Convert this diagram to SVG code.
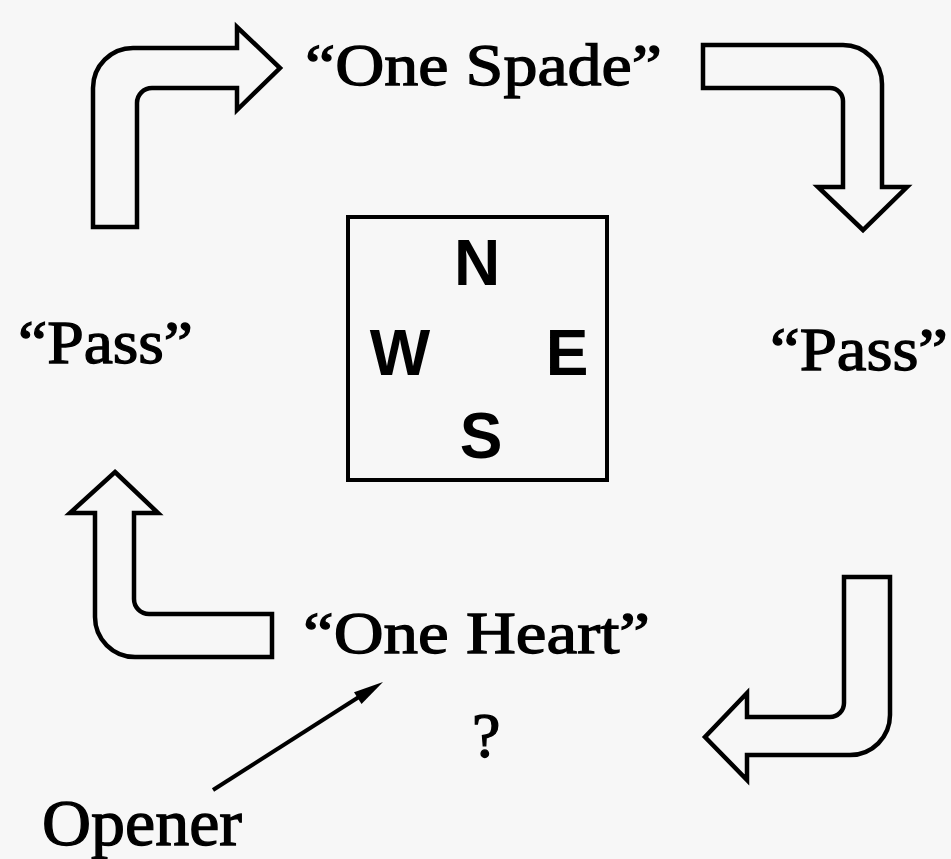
<svg xmlns="http://www.w3.org/2000/svg" width="951" height="859" viewBox="0 0 951 859">
<style>
.bg{fill:#f7f7f7}
.lbl{font-family:"Liberation Serif","Times New Roman",serif;fill:#000;stroke:#000;stroke-width:1.3}
.cmp{font-family:"Liberation Sans",Arial,sans-serif;font-weight:bold;font-size:64px;fill:#000;text-anchor:middle}
.big{fill:none;stroke:#000;stroke-width:4.5;stroke-linejoin:miter}
.box{fill:none;stroke:#000;stroke-width:4}
.ptr{stroke:#000;stroke-width:4;fill:none}
</style>
<rect class="bg" x="0" y="0" width="951" height="859"/>
<g id="connectors">
  <path id="arrow-top-left" class="big" d="M93,227 L93,88 A40,40 0 0 1 133,48 L237,48 L237,27 L280,68 L237,110 L237,88 L152,88 A15,15 0 0 0 137,103 L137,227 Z"/>
  <path id="arrow-top-right" class="big" d="M703,45 L843,45 A39,39 0 0 1 882,84 L882,187 L907,187 L863,230 L818,187 L843,187 L843,101 A13,13 0 0 0 830,88 L703,88 Z"/>
  <path id="arrow-bottom-right" class="big" d="M844,577 L890,577 L890,715 A40,40 0 0 1 850,755 L747,755 L747,780 L705,737 L747,693 L747,717 L830,717 A14,14 0 0 0 844,703 Z"/>
  <path id="arrow-bottom-left" class="big" d="M115,472 L158,513 L134,513 L134,599 A15,15 0 0 0 149,614 L272,614 L272,657 L135,657 A40,40 0 0 1 95,617 L95,513 L70,513 Z"/>
  <g id="arrow-opener">
    <line class="ptr" x1="213" y1="790" x2="362" y2="695"/>
    <polygon points="383,682 361.5,704 354,692.2" fill="#000"/>
  </g>
</g>
<g id="compass">
  <rect class="box" x="348" y="217" width="259" height="263"/>
  <text class="cmp" x="477" y="285">N</text>
  <text class="cmp" x="400" y="375">W</text>
  <text class="cmp" x="567" y="375">E</text>
  <text class="cmp" x="481" y="458">S</text>
</g>
<g id="one-spade"><text class="lbl" x="305" y="85" font-size="60" textLength="357" lengthAdjust="spacingAndGlyphs">&#8220;One Spade&#8221;</text></g>
<g id="pass-west"><text class="lbl" x="18" y="363" font-size="62" textLength="175" lengthAdjust="spacingAndGlyphs">&#8220;Pass&#8221;</text></g>
<g id="pass-east"><text class="lbl" x="770" y="370" font-size="62" textLength="178" lengthAdjust="spacingAndGlyphs">&#8220;Pass&#8221;</text></g>
<g id="one-heart"><text class="lbl" x="303" y="653" font-size="60" textLength="347" lengthAdjust="spacingAndGlyphs">&#8220;One Heart&#8221;</text></g>
<g id="question"><text class="lbl" x="472" y="757" font-size="64">?</text></g>
<g id="opener"><text class="lbl" x="42" y="845" font-size="66" textLength="200" lengthAdjust="spacingAndGlyphs">Opener</text></g>
</svg>
